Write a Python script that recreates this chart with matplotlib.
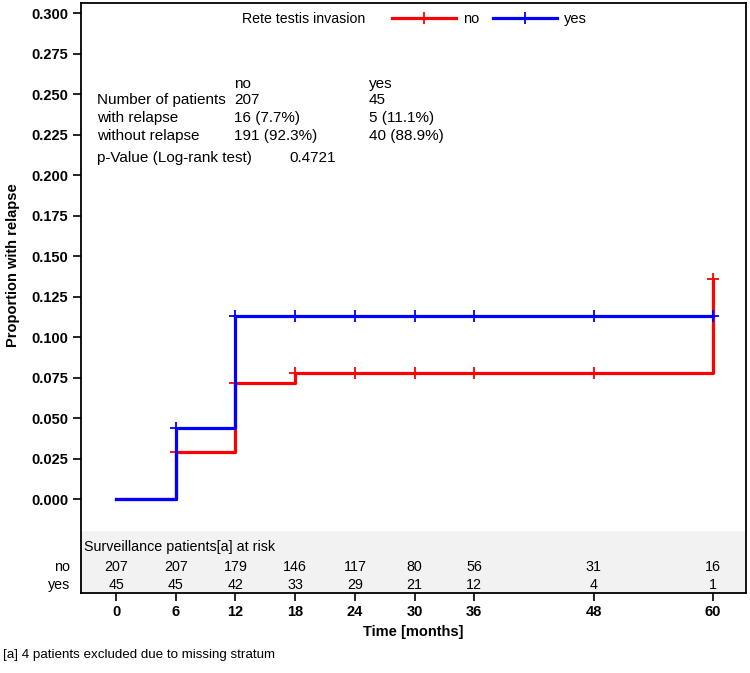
import matplotlib
matplotlib.use('Agg')
import matplotlib.pyplot as plt
from matplotlib.lines import Line2D

plt.rcParams['font.family'] = ['Liberation Sans', 'DejaVu Sans']

# step curves (cumulative proportion with relapse)
noTimes = [0, 6, 12, 18, 60]
noVals = [0.0, 0.029, 0.072, 0.078, 0.136]
yesTimes = [0, 6, 12, 60]
yesVals = [0.0, 0.044, 0.113, 0.113]

# censor marks
censTimes = [6, 12, 18, 24, 30, 36, 48, 60]
noCens = [0.029, 0.072, 0.078, 0.078, 0.078, 0.078, 0.078, 0.136]
yesCens = [0.044, 0.113, 0.113, 0.113, 0.113, 0.113, 0.113, 0.113]

# at risk table
riskTimes = [0, 6, 12, 18, 24, 30, 36, 48, 60]
riskNo = [207, 207, 179, 146, 117, 80, 56, 31, 16]
riskYes = [45, 45, 42, 33, 29, 21, 12, 4, 1]

statRows = ["Number of patients", "with relapse", "without relapse"]
statNo = ["207", "16 (7.7%)", "191 (92.3%)"]
statYes = ["45", "5 (11.1%)", "40 (88.9%)"]
pValue = "0.4721"

yTicks = [0.0, 0.025, 0.05, 0.075, 0.1, 0.125, 0.15, 0.175, 0.2, 0.225, 0.25, 0.275, 0.3]

W, H = 750, 673
def px(x, y):
    return x / W, 1 - y / H

fig = plt.figure(figsize=(7.5, 6.73), dpi=100)
ax = fig.add_axes([81/W, 1 - 593/H, (746-81)/W, (593-3)/H])

ax.set_xlim(-3.52, 63.3)
ax.set_ylim(-0.0577, 0.3062)

ax.axhspan(-0.0577, -0.0194, color='#f2f2f2', zorder=0, lw=0)

red = '#ff0000'
blue = '#0000ff'
ax.step(noTimes, noVals, where='post', color=red, lw=2.3, zorder=3)
ax.plot(censTimes, noCens, '+', color=red, ms=8, mew=1.3, zorder=3)
ax.step(yesTimes, yesVals, where='post', color=blue, lw=2.3, zorder=4)
ax.plot(censTimes, yesCens, '+', color=blue, ms=8, mew=1.3, zorder=4)

ax.set_yticks(yTicks)
ax.set_yticklabels(["%.3f" % v for v in yTicks], fontsize=10.5, fontweight='bold')
ax.set_xticks(riskTimes)
ax.set_xticklabels([str(t) for t in riskTimes], fontsize=10.5, fontweight='bold')
ax.tick_params(direction='out', length=6, width=1.2, pad=3)
for s in ax.spines.values():
    s.set_linewidth(1.3)

ax.set_ylabel("Proportion with relapse", fontsize=10.5, fontweight='bold')
ax.yaxis.set_label_coords(-0.092, 0.555)
ax.set_xlabel("Time [months]", fontsize=10.5, fontweight='bold', labelpad=4)

# at risk rows
ax.text(-3.2, -0.0293, "Surveillance patients[a] at risk", fontsize=10.3, va='center', ha='left')
for t, n, y in zip(riskTimes, riskNo, riskYes):
    ax.text(t, -0.0417, str(n), fontsize=10.3, ha='center', va='center')
    ax.text(t, -0.0528, str(y), fontsize=10.3, ha='center', va='center')
fig.text(*px(70, 567), "no", fontsize=10.3, ha='right', va='center')
fig.text(*px(70, 585), "yes", fontsize=10.3, ha='right', va='center')

# statistics block
fig.text(*px(234, 84), "no", fontsize=11, va='center')
fig.text(*px(369, 84), "yes", fontsize=11, va='center')
for i, (lab, a, b) in enumerate(zip(statRows, statNo, statYes)):
    yy = 100 + i * 18
    fig.text(*px(97, yy), lab, fontsize=11, va='center')
    fig.text(*px(234, yy), a, fontsize=11, va='center')
    fig.text(*px(369, yy), b, fontsize=11, va='center')
fig.text(*px(97, 158), "p-Value (Log-rank test)", fontsize=11, va='center')
fig.text(*px(289, 158), pValue, fontsize=11, va='center')

# legend
fig.text(*px(242, 19), "Rete testis invasion", fontsize=10.2, va='center')
handles = [Line2D([], [], color=red, lw=2.3, marker='+', ms=8, mew=1.3),
           Line2D([], [], color=blue, lw=2.3, marker='+', ms=8, mew=1.3)]
fig.legend(handles, ["no", "yes"], loc='center left', bbox_to_anchor=px(392, 19),
           ncol=2, frameon=False, fontsize=10.5, handlelength=4.4, handletextpad=0.5,
           columnspacing=0.9, borderpad=0, borderaxespad=0, numpoints=1)

fig.text(*px(3, 655), "[a] 4 patients excluded due to missing stratum", fontsize=9.6, va='center')

plt.savefig("out.png", dpi=100)
plt.close()
